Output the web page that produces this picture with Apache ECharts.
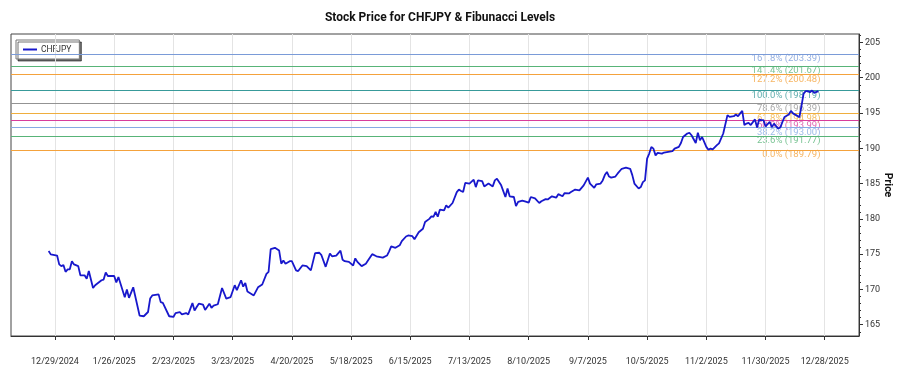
<!DOCTYPE html>
<html><head><meta charset="utf-8">
<script src="https://cdn.jsdelivr.net/npm/echarts@6/dist/echarts.min.js"></script>
<style>html,body{margin:0;padding:0;background:#fff}#c{width:900px;height:375px}</style>
</head><body><div id="c"></div>
<script>
// ---------- data ----------
const seriesName = 'CHFJPY';
const dates = [
 '2024-12-26','2024-12-27','2024-12-30','2024-12-31',
 '2025-01-01','2025-01-02','2025-01-03','2025-01-04','2025-01-05','2025-01-06','2025-01-07','2025-01-09','2025-01-10','2025-01-12','2025-01-13','2025-01-14','2025-01-16','2025-01-17','2025-01-20','2025-01-21','2025-01-22','2025-01-23','2025-01-26','2025-01-27','2025-01-28','2025-01-29','2025-01-31',
 '2025-02-01','2025-02-02','2025-02-04','2025-02-07','2025-02-09','2025-02-11','2025-02-12','2025-02-13','2025-02-16','2025-02-17','2025-02-18','2025-02-21','2025-02-23','2025-02-24','2025-02-26','2025-02-27',
 '2025-03-01','2025-03-02','2025-03-04','2025-03-05','2025-03-06','2025-03-07','2025-03-09','2025-03-10','2025-03-12','2025-03-13','2025-03-14','2025-03-16','2025-03-18','2025-03-20','2025-03-22','2025-03-24','2025-03-25','2025-03-27','2025-03-28','2025-03-29','2025-03-30',
 '2025-04-02','2025-04-04','2025-04-06','2025-04-08','2025-04-09','2025-04-10','2025-04-12','2025-04-14','2025-04-15','2025-04-16','2025-04-17','2025-04-19','2025-04-20','2025-04-22','2025-04-23','2025-04-25','2025-04-27','2025-04-29',
 '2025-05-01','2025-05-03','2025-05-04','2025-05-06','2025-05-08','2025-05-09','2025-05-11','2025-05-13','2025-05-14','2025-05-15','2025-05-17','2025-05-19','2025-05-20','2025-05-21','2025-05-23','2025-05-25','2025-05-26','2025-05-28','2025-05-30',
 '2025-06-02','2025-06-04','2025-06-05','2025-06-06','2025-06-08','2025-06-10','2025-06-11','2025-06-13','2025-06-14','2025-06-16','2025-06-17','2025-06-19','2025-06-21','2025-06-22','2025-06-24','2025-06-25','2025-06-26','2025-06-27','2025-06-28','2025-06-29',
 '2025-07-01','2025-07-02','2025-07-03','2025-07-05','2025-07-07','2025-07-08','2025-07-09','2025-07-10','2025-07-11','2025-07-13','2025-07-15','2025-07-16','2025-07-17','2025-07-19','2025-07-20','2025-07-22','2025-07-24','2025-07-25','2025-07-26','2025-07-28','2025-07-30','2025-07-31',
 '2025-08-01','2025-08-03','2025-08-04','2025-08-05','2025-08-07','2025-08-09','2025-08-10','2025-08-11','2025-08-13','2025-08-15','2025-08-16','2025-08-18','2025-08-19','2025-08-21','2025-08-23','2025-08-24','2025-08-26','2025-08-27','2025-08-29','2025-08-30',
 '2025-09-01','2025-09-03','2025-09-04','2025-09-05','2025-09-07','2025-09-08','2025-09-10','2025-09-11','2025-09-13','2025-09-14','2025-09-15','2025-09-16','2025-09-17','2025-09-18','2025-09-20','2025-09-21','2025-09-23','2025-09-25','2025-09-27','2025-09-28','2025-09-29',
 '2025-10-01','2025-10-02','2025-10-03','2025-10-04','2025-10-05','2025-10-06','2025-10-07','2025-10-08','2025-10-09','2025-10-10','2025-10-12','2025-10-13','2025-10-15','2025-10-17','2025-10-18','2025-10-20','2025-10-21','2025-10-22','2025-10-24','2025-10-25','2025-10-26','2025-10-28','2025-10-29','2025-10-30','2025-10-31',
 '2025-11-01','2025-11-02','2025-11-03','2025-11-04','2025-11-05','2025-11-07','2025-11-08','2025-11-10','2025-11-12','2025-11-13','2025-11-15','2025-11-16','2025-11-17','2025-11-18','2025-11-19','2025-11-20','2025-11-21','2025-11-22','2025-11-23','2025-11-25','2025-11-26','2025-11-27','2025-11-28','2025-11-29','2025-11-30',
 '2025-12-02','2025-12-03','2025-12-04','2025-12-06','2025-12-07','2025-12-08','2025-12-09','2025-12-11','2025-12-12','2025-12-13','2025-12-15','2025-12-16','2025-12-17','2025-12-18','2025-12-19','2025-12-20','2025-12-21','2025-12-22','2025-12-23','2025-12-25'
];
const prices = [
 175.44,174.97,174.8,173.55,
 173.3,173.45,172.5,172.85,172.85,174.0,173.55,173.3,172.0,172.0,171.5,172.6,170.2,170.6,171.3,171.4,172.4,171.9,171.9,171.0,171.75,170.8,168.9,
 170.0,168.8,170.3,166.3,166.2,166.8,168.7,169.15,169.3,168.2,168.1,166.2,166.1,166.65,166.8,166.46,
 166.65,166.46,168.06,167.0,167.5,167.98,167.84,167.1,167.98,167.4,167.7,167.9,170.2,168.7,168.9,170.6,169.9,171.3,170.4,170.9,169.7,
 169.15,170.3,170.7,172.2,172.5,175.7,175.9,175.5,173.65,174.1,173.65,174.0,174.0,172.7,172.6,173.4,173.3,172.7,
 175.15,175.2,174.85,173.2,175.1,174.7,174.8,175.5,174.2,174.0,173.9,173.4,174.4,173.9,173.3,173.65,174.1,175.0,174.7,
 174.5,174.8,175.4,176.1,175.9,176.25,176.85,177.5,177.65,177.55,177.1,178.1,178.6,179.55,180.0,180.35,180.3,181.0,180.3,181.3,
 181.2,181.9,181.6,182.25,183.8,184.15,183.95,183.8,185.1,185.0,185.55,184.5,185.45,185.35,184.6,185.0,184.6,185.45,185.7,184.75,183.1,184.3,
 183.2,183.1,181.8,182.4,182.6,182.4,182.3,183.1,182.9,182.25,182.5,182.8,182.75,183.2,183.0,183.5,183.2,183.65,183.6,183.8,
 184.15,184.05,184.4,184.75,185.85,185.0,184.4,184.9,185.0,185.45,186.2,186.65,186.0,185.85,186.0,186.4,187.1,187.25,187.1,186.2,185.0,
 184.3,184.5,185.2,185.45,188.55,189.25,190.2,189.95,189.0,189.35,189.25,189.4,189.5,189.6,189.95,190.2,190.75,191.6,192.1,192.2,191.85,190.75,192.2,191.15,191.6,
 190.9,190.2,189.79,189.95,189.85,190.45,190.7,192.1,194.7,194.45,194.55,194.8,194.55,194.95,195.3,193.3,193.5,193.6,193.3,194.1,192.95,194.1,194.0,194.0,193.1,
 193.75,193.0,193.5,192.8,192.95,193.75,194.45,194.8,195.3,194.95,194.6,194.4,196.0,197.75,198.1,198.1,197.95,198.19,197.85,198.1
];
const fibPercents = ['161.8%','141.4%','127.2%','100.0%','78.6%','61.8%','50.0%','38.2%','23.6%','0.0%'];
const fibLevels = [203.39,201.67,200.48,198.19,196.39,194.98,193.99,193.00,191.77,189.79];
const xTickDates = ['2024-12-29','2025-01-26','2025-02-23','2025-03-23','2025-04-20','2025-05-18','2025-06-15','2025-07-13','2025-08-10','2025-09-07','2025-10-05','2025-11-02','2025-11-30','2025-12-28'];
const yTicks = [165,170,175,180,185,190,195,200,205];

// ---------- styling ----------
const fibColors = ['#7a9bd8','#58b478','#f4a23c','#389a9a','#939393','#efae3e','#d83e9c','#86aae4','#58b478','#f4a23c'];
const FONT = 'Roboto, "Noto Sans", sans-serif';
const DAY = 86400000, ORIGIN = Date.UTC(2024, 11, 29);
function dayOf(s){ const p = s.split('-').map(Number); return (Date.UTC(p[0], p[1]-1, p[2]) - ORIGIN) / DAY; }
function fmtDay(v){ const d = new Date(ORIGIN + Math.round(v) * DAY); return (d.getUTCMonth()+1) + '/' + d.getUTCDate() + '/' + d.getUTCFullYear(); }
const xTicks = xTickDates.map(dayOf);
const yMinor = []; for (let v = 164; v <= 206; v++) yMinor.push(v);
const X_MIN = -20.8, X_MAX = 380.2, Y_MIN = 163.4, Y_MAX = 206.2;
const FIB_LABEL_X = 362.0;

const chart = echarts.init(document.getElementById('c'), null, {renderer: 'canvas'});
chart.setOption({
  animation: false,
  backgroundColor: '#fff',
  title: {
    text: 'Stock Price for CHFJPY & Fibunacci Levels',
    left: 435, top: 7, textAlign: 'center',
    textStyle: {fontFamily: FONT, fontSize: 12, fontWeight: 'bold', color: '#111'}
  },
  legend: {
    data: [seriesName], left: 16, top: 40, orient: 'vertical',
    padding: [5, 8, 5, 7], itemWidth: 14, itemHeight: 2, itemGap: 4,
    icon: 'rect',
    backgroundColor: '#fff', borderColor: '#777', borderWidth: 1,
    shadowColor: 'rgba(0,0,0,0.55)', shadowBlur: 0, shadowOffsetX: 2, shadowOffsetY: 2,
    textStyle: {fontFamily: FONT, fontSize: 8.5, color: '#333', padding: [0,0,0,-1]}
  },
  grid: {left: 11, right: 41, top: 34, bottom: 39, show: true, borderColor: '#444', borderWidth: 1,
         backgroundColor: 'transparent', outerBoundsMode: 'none', containLabel: false},
  xAxis: {
    type: 'value', min: X_MIN, max: X_MAX,
    axisLine: {show: true, onZero: false, lineStyle: {color: '#333'}},
    axisTick: {show: true, customValues: xTicks, length: 4, lineStyle: {color: '#333'}},
    axisLabel: {customValues: xTicks, formatter: fmtDay, margin: 21, fontFamily: FONT, fontSize: 9, color: '#333'},
    splitLine: {show: false}
  },
  yAxis: [{
    type: 'value', position: 'right', min: Y_MIN, max: Y_MAX,
    name: 'Price', nameLocation: 'middle', nameRotate: -90, nameGap: 23, nameMoveOverlap: false,
    nameTextStyle: {fontFamily: FONT, fontSize: 10.5, fontWeight: 'bold', color: '#111'},
    axisLine: {show: true, onZero: false, lineStyle: {color: '#333'}},
    axisTick: {show: true, customValues: yTicks, length: 4, lineStyle: {color: '#333'}},
    axisLabel: {customValues: yTicks, margin: 6, fontFamily: FONT, fontSize: 9, color: '#333'},
    splitLine: {show: false}
  }, {
    type: 'value', position: 'right', offset: 0, min: Y_MIN, max: Y_MAX,
    axisLine: {show: true, onZero: false, lineStyle: {color: 'rgba(0,0,0,0)'}},
    axisTick: {show: true, customValues: yMinor, length: 2, lineStyle: {color: '#333'}},
    axisLabel: {show: false},
    splitLine: {show: false}
  }],
  series: [
    {
      name: 'grid', type: 'line', data: [], z: 1, silent: true,
      markLine: {
        silent: true, symbol: ['none', 'none'], label: {show: false},
        lineStyle: {color: '#e4e4e4', width: 1, type: 'solid'},
        data: xTicks.map(v => ({xAxis: v}))
      }
    },
    {
      name: 'fib', type: 'line', data: [], z: 2, silent: true,
      markLine: {
        silent: true, symbol: ['none', 'none'], label: {show: false},
        lineStyle: {width: 1, type: 'solid'},
        data: fibLevels.map((l, i) => ({yAxis: l, lineStyle: {color: fibColors[i]}}))
      }
    },
    {
      name: 'fibLabels', type: 'scatter', z: 3, silent: true, symbolSize: 0,
      data: fibLevels.map((l, i) => ({
        value: [FIB_LABEL_X, l],
        label: {show: true, position: [0, 0], align: 'right', verticalAlign: 'top', lineHeight: 10,
          formatter: fibPercents[i] + ' (' + l.toFixed(2) + ')', color: fibColors[i],
          fontFamily: FONT, fontSize: 9.5}
      }))
    },
    {
      name: seriesName, type: 'line', z: 5, showSymbol: false, symbol: 'none',
      data: dates.map((d, i) => [dayOf(d), prices[i]]),
      lineStyle: {color: '#1818cc', width: 1.8},
      itemStyle: {color: '#1818cc'}
    }
  ]
});
</script>
</body></html>
